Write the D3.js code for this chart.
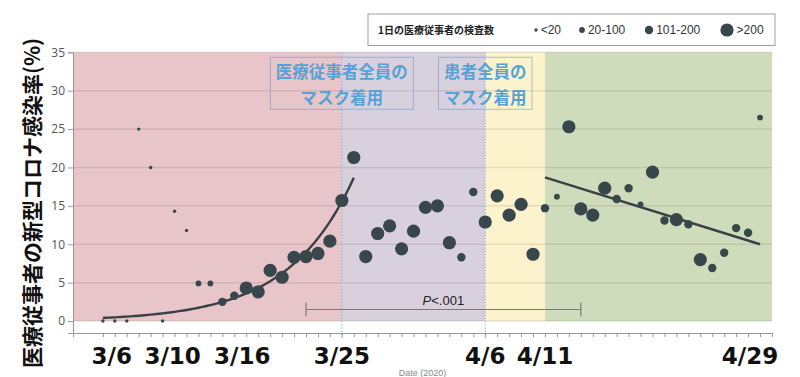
<!DOCTYPE html>
<html>
<head>
<meta charset="utf-8">
<script src="https://cdn.jsdelivr.net/npm/d3@7"></script>
<style>
  body { margin: 0; background: #fff; }
  svg { display: block; }
</style>
</head>
<body>
<script>
// daily infection rate of staff (%), 3/5 .. 4/29
const firstDay = "2020-03-05";
const rates = [
  0, 0, 0, 25, 20, 0, 14.3, 11.8, 4.9, 4.9,
  2.5, 3.3, 4.3, 3.8, 6.6, 5.7, 8.3, 8.4, 8.8, 10.4,
  15.7, 21.3, 8.4, 11.4, 12.4, 9.4, 11.7, 14.8, 15.0, 10.2,
  8.3, 16.8, 12.9, 16.3, 13.8, 15.2, 8.7, 14.7, 16.2, 25.3,
  14.6, 13.8, 17.3, 15.9, 17.3, 15.2, 19.4, 13.1, 13.2, 12.6,
  8.0, 6.9, 8.9, 12.1, 11.5, 26.5
];
// tests per day group: 0 "<20", 1 "20-100", 2 "101-200", 3 ">200"
const testGroups = [
  0, 0, 0, 0, 0, 0, 0, 0, 1, 1,
  2, 2, 3, 3, 3, 3, 3, 3, 3, 3,
  3, 3, 3, 3, 3, 3, 3, 3, 3, 3,
  2, 2, 3, 3, 3, 3, 3, 2, 1, 3,
  3, 3, 3, 2, 2, 1, 3, 2, 3, 2,
  3, 2, 2, 2, 2, 1
];
const groupLabels = ["<20", "20-100", "101-200", ">200"];

const periodStarts = ["2020-03-02T12", "2020-03-25T00", "2020-04-06T00", "2020-04-11T00"];
const periodEnds   = ["2020-03-25T00", "2020-04-06T00", "2020-04-11T00", "2020-04-30T00"];

const tickLabels = ["2020-03-06", "2020-03-10", "2020-03-16", "2020-03-25", "2020-04-06", "2020-04-11", "2020-04-29"];
const yTicks = [0, 5, 10, 15, 20, 25, 30, 35];

// exponential fit before masks (days from 3/5), linear fit after 4/11
const expFit = { a: 0.4, b: 0.183, days: 21 };
const linFitDates = ["2020-04-11", "2020-04-29"];
const linFitValues = [18.7, 10.0];

const pBracket = { from: "2020-03-22", to: "2020-04-14", value: 1.5, text: ".001" };

const notes = [
  { date: "2020-03-25", lines: ["医療従事者全員の", "マスク着用"] },
  { date: "2020-04-06", lines: ["患者全員の", "マスク着用"] }
];

const W = 800, H = 377;
const margin = { top: 52.3, right: 28, bottom: 44, left: 73 };

const parseDay = d3.timeParse("%Y-%m-%d");
const parseHour = d3.timeParse("%Y-%m-%dT%H");

const data = rates.map((v, i) => ({
  date: d3.timeDay.offset(parseDay(firstDay), i),
  value: v,
  group: testGroups[i]
}));

const x = d3.scaleTime()
    .domain([parseHour(periodStarts[0]), parseHour(periodEnds[3])])
    .range([margin.left, W - margin.right]);

const y = d3.scaleLinear()
    .domain([-1.56, 35])
    .range([H - margin.bottom, margin.top]);

const r = d3.scaleOrdinal().domain([0, 1, 2, 3]).range([1.7, 2.9, 4.2, 6.6]);
const bg = d3.scaleOrdinal().domain([0, 1, 2, 3])
    .range(["#e8c5c8", "#d9d0de", "#fcf2cc", "#cfdcbc"]);

const dotColor = "#37474b";

const svg = d3.select("body").append("svg")
    .attr("width", W)
    .attr("height", H)
    .style("font-family", "'Liberation Sans', Arial, sans-serif");

// period backgrounds
svg.append("g")
  .selectAll("rect")
  .data(periodStarts)
  .enter().append("rect")
    .attr("x", d => x(parseHour(d)))
    .attr("y", y(35))
    .attr("width", (d, i) => x(parseHour(periodEnds[i])) - x(parseHour(d)))
    .attr("height", y(0) - y(35))
    .attr("fill", (d, i) => bg(i));

// grid
svg.append("g")
  .selectAll("line")
  .data(yTicks)
  .enter().append("line")
    .attr("x1", margin.left)
    .attr("x2", W - margin.right)
    .attr("y1", d => y(d))
    .attr("y2", d => y(d))
    .attr("stroke", "rgba(0,0,0,0.09)")
    .attr("stroke-width", 1.5);

// dotted lines at mask dates
svg.append("g")
  .selectAll("line")
  .data(notes)
  .enter().append("line")
    .attr("x1", d => x(parseDay(d.date)))
    .attr("x2", d => x(parseDay(d.date)))
    .attr("y1", y(35))
    .attr("y2", y(-2.4))
    .attr("stroke", "#7fb2d6")
    .attr("stroke-width", 1.2)
    .attr("stroke-dasharray", "1.2,2");

// annotation boxes
const note = svg.append("g")
  .selectAll("g")
  .data(notes)
  .enter().append("g")
    .attr("transform", d => `translate(${x(parseDay(d.date))},0)`);

note.each(function(d) {
  const g = d3.select(this);
  const texts = g.selectAll("text")
    .data(d.lines)
    .enter().append("text")
      .attr("x", 0)
      .attr("y", (t, i) => 71.7 + i * 26.3)
      .attr("dy", "0.36em")
      .attr("text-anchor", "middle")
      .attr("font-family", "'Noto Sans CJK JP', sans-serif")
      .attr("font-weight", "bold")
      .attr("font-size", 16.5)
      .attr("fill", "#56a2d7")
      .text(t => t);
  const w = d3.max(texts.nodes(), n => n.getComputedTextLength()) + 11;
  g.insert("rect", "text")
    .attr("x", -w / 2)
    .attr("y", 57.3)
    .attr("width", w)
    .attr("height", 52)
    .attr("fill", "none")
    .attr("stroke", "rgba(90,145,190,0.5)")
    .attr("stroke-width", 1);
});

// P bracket
const pG = svg.append("g").attr("stroke", "#7a7a7a").attr("stroke-width", 1.2);
const px0 = x(parseDay(pBracket.from)), px1 = x(parseDay(pBracket.to)), py = y(pBracket.value);
pG.append("line").attr("x1", px0).attr("x2", px1).attr("y1", py).attr("y2", py);
[px0, px1].forEach(p => pG.append("line")
    .attr("x1", p).attr("x2", p).attr("y1", py - 7).attr("y2", py + 7));

const pText = svg.append("text")
    .attr("x", (px0 + px1) / 2)
    .attr("y", py - 5)
    .attr("text-anchor", "middle")
    .attr("font-size", 13)
    .attr("fill", "#222");
pText.append("tspan").attr("font-style", "italic").text("P");
pText.append("tspan").text("<" + pBracket.text);

// fit lines
const line = d3.line().x(d => x(d[0])).y(d => y(d[1]));
const expPts = d3.range(0, expFit.days + 0.01, 0.25)
    .map(t => [d3.timeHour.offset(parseDay(firstDay), t * 24), expFit.a * Math.exp(expFit.b * t)]);
svg.append("path")
    .attr("d", line(expPts))
    .attr("fill", "none")
    .attr("stroke", "#3a4044")
    .attr("stroke-width", 2.4);

svg.append("path")
    .attr("d", line(linFitDates.map((d, i) => [parseDay(d), linFitValues[i]])))
    .attr("fill", "none")
    .attr("stroke", "#3a4044")
    .attr("stroke-width", 2.4);

// points
svg.append("g")
  .selectAll("circle")
  .data(data)
  .enter().append("circle")
    .attr("cx", d => x(d.date))
    .attr("cy", d => y(d.value))
    .attr("r", d => r(d.group))
    .attr("fill", dotColor);

// axes
const yAxis = svg.append("g")
    .attr("transform", `translate(${margin.left},0)`)
    .call(d3.axisLeft(y).tickValues(yTicks).tickSize(5).tickPadding(3));
yAxis.select(".domain").attr("stroke", "#999");
yAxis.selectAll(".tick line").attr("stroke", "#999");
yAxis.selectAll(".tick text")
    .attr("font-family", "'Open Sans', sans-serif")
    .attr("font-size", 12)
    .attr("fill", "#555");

const xAxis = svg.append("g")
    .attr("transform", `translate(0,${y.range()[0]})`)
    .call(d3.axisBottom(x)
      .tickValues(d3.timeDay.range(parseDay(firstDay), parseHour(periodEnds[3]), 1).concat([parseHour(periodEnds[3])]))
      .tickSize(4)
      .tickFormat(""));
xAxis.select(".domain").attr("stroke", "#999");
xAxis.selectAll(".tick line").attr("stroke", "#999");

// the big date labels sit a little off their days in the original
const labelShift = { "2020-03-06": -3, "2020-03-10": 10, "2020-03-16": 8, "2020-04-29": -10 };
const fmt = d3.timeFormat("%-m/%-d");
svg.append("g")
  .selectAll("text")
  .data(tickLabels)
  .enter().append("text")
    .attr("x", d => x(parseDay(d)) + (labelShift[d] || 0))
    .attr("y", 363.5)
    .attr("text-anchor", "middle")
    .attr("font-family", "'DejaVu Sans', sans-serif")
    .attr("font-weight", "bold")
    .attr("font-size", 23)
    .attr("fill", "#111")
    .text(d => fmt(parseDay(d)));

svg.append("text")
    .attr("x", (margin.left + W - margin.right) / 2)
    .attr("y", 376)
    .attr("text-anchor", "middle")
    .attr("font-size", 9)
    .attr("fill", "#888")
    .text("Date (2020)");

svg.append("text")
    .attr("transform", "translate(33,203) rotate(-90)")
    .attr("text-anchor", "middle")
    .attr("dy", "0.35em")
    .attr("font-family", "'Noto Sans CJK JP', sans-serif")
    .attr("font-weight", "bold")
    .attr("font-size", 21)
    .attr("fill", "#111")
    .text("医療従事者の新型コロナ感染率(%)");

// legend
const legend = svg.append("g");
legend.append("rect")
    .attr("x", 368)
    .attr("y", 14)
    .attr("width", 407)
    .attr("height", 31.5)
    .attr("fill", "#fff")
    .attr("stroke", "#a0a0a0");
legend.append("text")
    .attr("x", 378)
    .attr("y", 30)
    .attr("dy", "0.35em")
    .attr("font-family", "'Noto Sans CJK JP', sans-serif")
    .attr("font-weight", "bold")
    .attr("font-size", 10)
    .attr("fill", "#222")
    .text("1日の医療従事者の検査数");

const legendDotX = [536, 582, 649, 727];
const item = legend.selectAll("g.item")
  .data(groupLabels)
  .enter().append("g")
    .attr("class", "item")
    .attr("transform", (d, i) => `translate(${legendDotX[i]},30)`);
item.append("circle")
    .attr("r", (d, i) => r(i))
    .attr("fill", dotColor);
item.append("text")
    .attr("x", (d, i) => r(i) + 3)
    .attr("dy", "0.35em")
    .attr("font-size", 12)
    .attr("fill", "#333")
    .text(d => d);
</script>
</body>
</html>
